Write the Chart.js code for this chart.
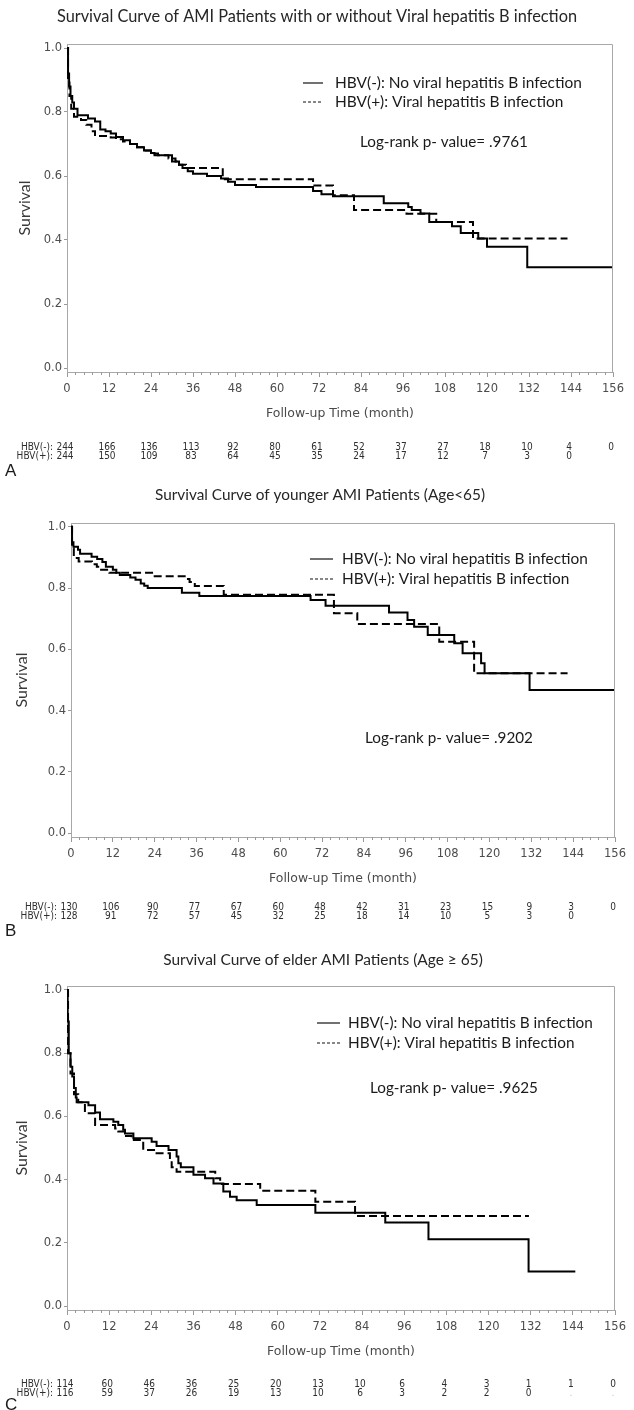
<!DOCTYPE html>
<html>
<head>
<meta charset="utf-8">
<script src="https://cdn.jsdelivr.net/npm/chart.js@4.4.1/dist/chart.umd.min.js"></script>
<style>
    body { margin: 0; background: #fff; }
    .panel { position: absolute; left: 0; width: 634px; }
</style>
</head>
<body>
<div class="panel" style="top:0px"><canvas id="chartA" width="634" height="478"></canvas></div>
<div class="panel" style="top:478px"><canvas id="chartB" width="634" height="462"></canvas></div>
<div class="panel" style="top:940px"><canvas id="chartC" width="634" height="470"></canvas></div>
<script>
// axis ticks (months / survival)
const xTickValues = [0, 12, 24, 36, 48, 60, 72, 84, 96, 108, 120, 132, 144, 156];
const yTickValues = [0, 0.2, 0.4, 0.6, 0.8, 1.0];

const negLabel = 'HBV(-): No viral hepatitis B infection';
const posLabel = 'HBV(+): Viral hepatitis B infection';

// Panel A - all patients
const aTitle = 'Survival Curve of AMI Patients with or without Viral hepatitis B infection';
const aPValue = 'Log-rank p- value= .9761';
const aNegTime = [0, 0.3, 0.6, 1, 1.5, 2, 3, 6, 8, 9.5, 11, 12.5, 14, 16, 18, 20, 22, 24, 25, 30, 31, 32, 33, 34.5, 36, 40, 44, 46, 48, 54, 70.3, 72.7, 76, 90.5, 97.5, 98.5, 101, 103.5, 110, 112.5, 117.5, 120, 131.5, 156];
const aNegSurv = [1, 0.92, 0.88, 0.85, 0.83, 0.81, 0.79, 0.78, 0.77, 0.745, 0.74, 0.733, 0.722, 0.712, 0.70, 0.69, 0.68, 0.672, 0.665, 0.655, 0.645, 0.635, 0.625, 0.615, 0.607, 0.60, 0.592, 0.582, 0.572, 0.566, 0.553, 0.543, 0.537, 0.515, 0.503, 0.494, 0.483, 0.456, 0.443, 0.422, 0.405, 0.379, 0.315, 0.315];
const aPosTime = [0, 0.3, 0.7, 1.2, 2, 4, 5.5, 7, 8, 12.5, 14, 16, 18, 20, 22, 24, 26, 29, 30, 32, 34, 44.5, 70.3, 76, 82, 97, 105.5, 116, 143];
const aPosSurv = [1, 0.9, 0.85, 0.81, 0.785, 0.775, 0.76, 0.74, 0.725, 0.72, 0.715, 0.708, 0.70, 0.69, 0.68, 0.67, 0.665, 0.655, 0.645, 0.635, 0.625, 0.59, 0.57, 0.54, 0.494, 0.482, 0.456, 0.405, 0.405];
const aRiskNeg = [244, 166, 136, 113, 92, 80, 61, 52, 37, 27, 18, 10, 4, 0];
const aRiskPos = [244, 150, 109, 83, 64, 45, 35, 24, 17, 12, 7, 3, 0];

// Panel B - age < 65
const bTitle = 'Survival Curve of younger AMI Patients (Age<65)';
const bPValue = 'Log-rank p- value= .9202';
const bNegTime = [0, 0.3, 0.7, 2, 2.6, 5.9, 7.5, 9, 10, 12, 13, 14, 17, 18.5, 20, 21, 22, 31.8, 36.8, 68.7, 73, 91.2, 96.5, 98.4, 102.3, 109.9, 112.3, 117.6, 118.6, 131.5, 156];
const bNegSurv = [1, 0.95, 0.935, 0.925, 0.912, 0.902, 0.895, 0.885, 0.87, 0.86, 0.85, 0.843, 0.835, 0.827, 0.815, 0.808, 0.80, 0.785, 0.774, 0.761, 0.742, 0.72, 0.696, 0.674, 0.647, 0.62, 0.587, 0.555, 0.522, 0.467, 0.467];
const bPosTime = [0, 0.3, 0.8, 2.2, 6, 7.4, 8.3, 11, 23.6, 33, 34, 35.5, 43.8, 75.4, 82.1, 105.6, 115.6, 142.4];
const bPosSurv = [1, 0.93, 0.898, 0.887, 0.878, 0.87, 0.86, 0.85, 0.839, 0.83, 0.82, 0.807, 0.778, 0.718, 0.683, 0.625, 0.522, 0.522];
const bRiskNeg = [130, 106, 90, 77, 67, 60, 48, 42, 31, 23, 15, 9, 3, 0];
const bRiskPos = [128, 91, 72, 57, 45, 32, 25, 18, 14, 10, 5, 3, 0];

// Panel C - age >= 65
const cTitle = 'Survival Curve of elder AMI Patients (Age \u2265 65)';
const cPValue = 'Log-rank p- value= .9625';
const cNegTime = [0, 0.2, 0.5, 1, 1.5, 2, 2.5, 2.75, 6.1, 8, 9.4, 13.2, 14.6, 16, 16.5, 18.9, 24.1, 25.5, 28.9, 31.2, 31.7, 32.4, 36, 39.3, 41.7, 44.5, 46.4, 48.3, 54, 70.7, 90.6, 102.9, 131.4, 144.7];
const cNegSurv = [1, 0.9, 0.8, 0.757, 0.726, 0.69, 0.66, 0.645, 0.635, 0.612, 0.591, 0.583, 0.573, 0.558, 0.546, 0.531, 0.52, 0.506, 0.494, 0.473, 0.452, 0.439, 0.415, 0.404, 0.388, 0.362, 0.346, 0.335, 0.32, 0.295, 0.264, 0.211, 0.109, 0.109];
const cPosTime = [0, 0.3, 1, 2, 3.2, 5.1, 8, 13.7, 14.6, 16.5, 18.4, 21.7, 25.5, 29.3, 29.8, 31.2, 42.2, 43.6, 55, 70.7, 82, 131.5];
const cPosSurv = [1, 0.8, 0.736, 0.67, 0.645, 0.61, 0.573, 0.562, 0.552, 0.538, 0.525, 0.494, 0.483, 0.462, 0.439, 0.425, 0.404, 0.386, 0.365, 0.33, 0.285, 0.285];
const cRiskNeg = [114, 60, 46, 36, 25, 20, 13, 10, 6, 4, 3, 1, 1, 0];
const cRiskPos = [116, 59, 37, 26, 19, 13, 10, 6, 3, 2, 2, 0, '.', '.'];

const SANS = "Lato, 'Open Sans', sans-serif";
const AXIS = "'DejaVu Sans', sans-serif";

function fitFont(ctx, text, family, width) {
    ctx.font = '20px ' + family;
    const size = 20 * width / ctx.measureText(text).width;
    ctx.font = size.toFixed(2) + 'px ' + family;
}

// titles, legend, frame, minor ticks and number-at-risk table
const kmDecor = {
    id: 'kmDecor',
    afterDraw(chart, args, o) {
        const ctx = chart.ctx;
        const ca = chart.chartArea;
        const xs = chart.scales.x;
        const off = o.top;
        ctx.save();

        // box around plot
        ctx.strokeStyle = '#a8a8a8';
        ctx.lineWidth = 1;
        ctx.beginPath();
        ctx.moveTo(Math.round(ca.left) + 0.5, Math.round(ca.top) + 0.5);
        ctx.lineTo(Math.round(ca.right) - 0.5, Math.round(ca.top) + 0.5);
        ctx.lineTo(Math.round(ca.right) - 0.5, Math.round(ca.bottom) + 0.5);
        ctx.stroke();

        // minor ticks on the time axis
        ctx.strokeStyle = '#999';
        ctx.beginPath();
        for (let i = 0; i < xTickValues.length - 1; i++) {
            for (let k = 1; k < 5; k++) {
                const px = Math.round(xs.getPixelForValue(xTickValues[i] + k * 2.4)) + 0.5;
                ctx.moveTo(px, ca.bottom);
                ctx.lineTo(px, ca.bottom + 3);
            }
        }
        ctx.stroke();

        ctx.textBaseline = 'middle';

        // title
        ctx.fillStyle = '#262626';
        ctx.textAlign = 'center';
        fitFont(ctx, o.title, SANS, o.titleW);
        ctx.fillText(o.title, o.titleX, o.titleY - off);

        // legend
        ctx.strokeStyle = '#111';
        ctx.lineWidth = 1.2;
        ctx.beginPath();
        ctx.moveTo(o.legX0, o.legY1 - off);
        ctx.lineTo(o.legX1, o.legY1 - off);
        ctx.stroke();
        ctx.setLineDash([3, 2]);
        ctx.beginPath();
        ctx.moveTo(o.legX0, o.legY2 - off);
        ctx.lineTo(o.legX1, o.legY2 - off);
        ctx.stroke();
        ctx.setLineDash([]);
        ctx.fillStyle = '#1a1a1a';
        ctx.textAlign = 'left';
        fitFont(ctx, negLabel, SANS, o.legW);
        ctx.fillText(negLabel, o.legTextX, o.legY1 - off);
        ctx.fillText(posLabel, o.legTextX, o.legY2 - off);

        // log-rank p value
        fitFont(ctx, o.pValue, SANS, 168);
        ctx.fillText(o.pValue, o.pX, o.pY - off);

        // axis titles
        ctx.fillStyle = '#3a3a3a';
        ctx.textAlign = 'center';
        ctx.save();
        ctx.translate(o.yTitleX, (ca.top + ca.bottom) / 2);
        ctx.rotate(-Math.PI / 2);
        fitFont(ctx, 'Survival', SANS, 55);
        ctx.fillText('Survival', 0, 0);
        ctx.restore();
        ctx.fillStyle = '#4a4a4a';
        fitFont(ctx, 'Follow-up Time (month)', AXIS, 148);
        ctx.fillText('Follow-up Time (month)', (ca.left + ca.right) / 2, o.xTitleY - off);

        // number at risk
        ctx.font = "10px 'DejaVu Sans Condensed', 'DejaVu Sans', sans-serif";
        const rows = [[o.riskNeg, 'HBV(-):', o.riskY1], [o.riskPos, 'HBV(+):', o.riskY2]];
        rows.forEach(([vals, lab, y]) => {
            ctx.fillStyle = '#2e2e2e';
            ctx.textAlign = 'right';
            ctx.fillText(lab, xs.getPixelForValue(0) - 14, y - off);
            ctx.textAlign = 'center';
            vals.forEach((v, i) => {
                ctx.fillStyle = v === '.' ? '#c8c8c8' : '#2e2e2e';
                ctx.fillText(String(v), xs.getPixelForValue(xTickValues[i]) - 2, y - off);
            });
        });

        // panel letter
        ctx.fillStyle = '#1a1a1a';
        ctx.textAlign = 'left';
        ctx.font = "17px 'Liberation Sans', Arial, sans-serif";
        ctx.fillText(o.letter, 5, o.letterY - off);

        ctx.restore();
    }
};

function toPoints(times, surv) {
    return times.map((t, i) => ({ x: t, y: surv[i] }));
}

function makePanel(p) {
    const canvas = document.getElementById(p.id);
    const bottomSpace = p.top + canvas.height - p.plotBottom;
    return new Chart(canvas, {
        type: 'line',
        data: {
            datasets: [{
                label: negLabel,
                data: toPoints(p.negTime, p.negSurv),
                stepped: true,
                borderColor: '#000',
                borderWidth: 2,
                pointRadius: 0,
                fill: false
            }, {
                label: posLabel,
                data: toPoints(p.posTime, p.posSurv),
                stepped: true,
                borderColor: '#000',
                borderWidth: 2,
                borderDash: [8, 4],
                pointRadius: 0,
                fill: false
            }]
        },
        options: {
            responsive: false,
            animation: false,
            events: [],
            layout: {
                padding: { left: 0, right: 634 - p.right, top: p.plotTop - p.top, bottom: 0 }
            },
            plugins: {
                legend: { display: false },
                tooltip: { enabled: false },
                kmDecor: p.decor
            },
            scales: {
                x: {
                    type: 'linear',
                    min: 0,
                    max: 156,
                    bounds: 'data',
                    afterFit: s => { s.height = bottomSpace; },
                    afterBuildTicks: s => { s.ticks = xTickValues.map(v => ({ value: v })); },
                    grid: { drawOnChartArea: false, tickLength: 5, color: '#999' },
                    border: { color: '#a8a8a8' },
                    ticks: { autoSkip: false, maxRotation: 0, padding: 5, color: '#4d4d4d', font: { family: AXIS, size: 11.5 } }
                },
                y: {
                    min: -0.0125,
                    max: 1.0125,
                    bounds: 'data',
                    afterFit: s => { s.width = p.left; },
                    afterBuildTicks: s => { s.ticks = yTickValues.map(v => ({ value: v })); },
                    grid: { drawOnChartArea: false, tickLength: 3, color: '#999' },
                    border: { color: '#a8a8a8' },
                    ticks: { padding: 2, color: '#4d4d4d', font: { family: AXIS, size: 11.5 }, callback: v => v.toFixed(1) }
                }
            }
        },
        plugins: [kmDecor]
    });
}

makePanel({
    id: 'chartA', top: 0, left: 67, right: 613, plotTop: 44, plotBottom: 372,
    negTime: aNegTime, negSurv: aNegSurv, posTime: aPosTime, posSurv: aPosSurv,
    decor: {
        top: 0, title: aTitle, titleX: 317, titleY: 17, titleW: 520,
        legX0: 303, legX1: 323, legTextX: 335, legY1: 83, legY2: 102, legW: 247,
        pValue: aPValue, pX: 360, pY: 142,
        yTitleX: 25, xTitleY: 414,
        riskNeg: aRiskNeg, riskPos: aRiskPos, riskY1: 447, riskY2: 456,
        letter: 'A', letterY: 471
    }
});

makePanel({
    id: 'chartB', top: 478, left: 71, right: 615, plotTop: 523, plotBottom: 837,
    negTime: bNegTime, negSurv: bNegSurv, posTime: bPosTime, posSurv: bPosSurv,
    decor: {
        top: 478, title: bTitle, titleX: 320, titleY: 495, titleW: 330,
        legX0: 310, legX1: 333, legTextX: 342, legY1: 559, legY2: 579, legW: 246,
        pValue: bPValue, pX: 365, pY: 738,
        yTitleX: 22, xTitleY: 879,
        riskNeg: bRiskNeg, riskPos: bRiskPos, riskY1: 907, riskY2: 916,
        letter: 'B', letterY: 931
    }
});

makePanel({
    id: 'chartC', top: 940, left: 67, right: 615, plotTop: 986, plotBottom: 1310,
    negTime: cNegTime, negSurv: cNegSurv, posTime: cPosTime, posSurv: cPosSurv,
    decor: {
        top: 940, title: cTitle, titleX: 323, titleY: 960, titleW: 320,
        legX0: 317, legX1: 340, legTextX: 348, legY1: 1023, legY2: 1043, legW: 245,
        pValue: cPValue, pX: 370, pY: 1088,
        yTitleX: 22, xTitleY: 1352,
        riskNeg: cRiskNeg, riskPos: cRiskPos, riskY1: 1384, riskY2: 1393,
        letter: 'C', letterY: 1405
    }
});
</script>
</body>
</html>
